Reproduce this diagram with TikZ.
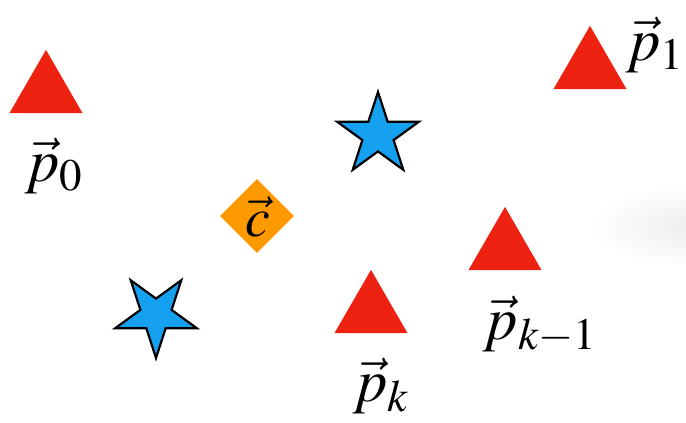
\documentclass[tikz,border=0pt]{standalone}
\usepackage{mathptmx}
\usetikzlibrary{shapes.geometric}
\definecolor{tri}{RGB}{238,34,17}
\definecolor{starblue}{RGB}{22,160,240}
\definecolor{dorange}{RGB}{255,153,0}
\tikzset{
  tripoint/.style={regular polygon, regular polygon sides=3, minimum size=84.3bp, inner sep=0pt, fill=tri},
  bluestar/.style={star, star points=5, star point ratio=2.618, minimum size=86bp, inner sep=0pt, fill=starblue, draw=black, line width=2.2bp},
  cdiamond/.style={diamond, minimum size=74bp, inner sep=0pt, fill=dorange},
  lab/.style={font=\fontsize{61}{66}\selectfont, inner sep=0pt}
}
\begin{document}
\begin{tikzpicture}[x=1bp,y=-1bp]
\useasboundingbox (0,0) rectangle (686,422);
\shade[inner color=black!7, outer color=white] (690,226) ellipse (100 and 40);
% triangles (centroid = apex + R)
\node[tripoint] (t0) at (46,92) {};
\node[tripoint] (t1) at (590,68) {};
\node[tripoint] (tk) at (371,312) {};
\node[tripoint] (tk1) at (505,249) {};
% stars
\node[bluestar] (s1) at (378,135) {};
\node[bluestar, shape border rotate=180] (s2) at (156,315) {};
% centre diamond
\node[cdiamond] (c) at (257,216) {};
\node[lab, font=\fontsize{56}{60}\selectfont] (cl) at (258,217) {$\vec{c}$};
% labels
\node[lab] (l0) at (54,166) {$\vec{p}_0$};
\node[lab] (l1) at (655,45) {$\vec{p}_1$};
\node[lab] (lk) at (381,386) {$\vec{p}_k$};
\node[lab] (lk1) at (540,325) {$\vec{p}_{k-1}$};
\end{tikzpicture}
\end{document}
